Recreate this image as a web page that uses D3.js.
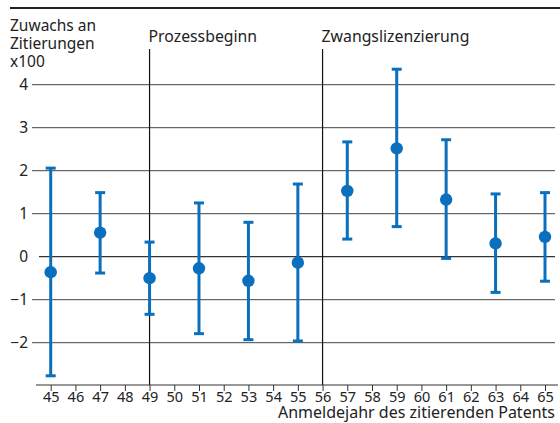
<!DOCTYPE html>
<html>
<head>
<meta charset="utf-8">
<script src="https://cdn.jsdelivr.net/npm/d3@7"></script>
<style>
  body { margin: 0; background: #fff; }
  text { font-family: "Noto Sans", sans-serif; fill: #222; }
</style>
</head>
<body>
<script>
// data (values x100)
var years = [45, 47, 49, 51, 53, 55, 57, 59, 61, 63, 65];
var means = [-0.36, 0.56, -0.50, -0.27, -0.56, -0.14, 1.53, 2.52, 1.33, 0.31, 0.46];
var lower = [-2.77, -0.38, -1.34, -1.79, -1.93, -1.96, 0.41, 0.70, -0.04, -0.83, -0.57];
var upper = [2.06, 1.49, 0.34, 1.25, 0.80, 1.69, 2.67, 4.36, 2.72, 1.46, 1.49];

var eventYears = [49, 56];
var eventLabels = ["Prozessbeginn", "Zwangslizenzierung"];

var yTicks = [-2, -1, 0, 1, 2, 3, 4];
var xTicks = d3.range(45, 66);
var yTitle = ["Zuwachs an", "Zitierungen", "x100"];
var xTitle = "Anmeldejahr des zitierenden Patents";

var W = 560, H = 423;
var blue = "#0a6fbd";
var font = "'Noto Sans', sans-serif";

var svg = d3.select("body").append("svg")
    .attr("width", W)
    .attr("height", H);

var x = d3.scaleLinear().domain([45, 65]).range([50.7, 545]);
var y = d3.scaleLinear().domain([-3, 4]).range([385.7, 84.7]);

// top rule
svg.append("line")
    .attr("x1", 10).attr("x2", 560)
    .attr("y1", 8).attr("y2", 8)
    .style("stroke", "#222").style("stroke-width", 2);

// horizontal gridlines
svg.selectAll(".grid")
    .data(yTicks)
    .enter().append("line")
    .attr("class", "grid")
    .attr("x1", function (d) { return d === 0 ? 39 : 32; })
    .attr("x2", 555)
    .attr("y1", function (d) { return y(d); })
    .attr("y2", function (d) { return y(d); })
    .style("stroke", function (d) { return d === 0 ? "#333" : "#444"; })
    .style("stroke-width", function (d) { return d === 0 ? 1.3 : 1; });

// y labels
var yAxis = svg.append("g")
    .attr("transform", "translate(28,0)")
    .call(d3.axisLeft(y).tickValues(yTicks).tickSize(0).tickPadding(0)
        .tickFormat(function (d) { return d < 0 ? "\u2212" + Math.abs(d) : d; }));
yAxis.select(".domain").remove();
yAxis.selectAll("text")
    .style("font-size", "15.5px")
    .style("font-family", font)
    .attr("fill", "#222");

// event lines and labels
svg.selectAll(".event")
    .data(eventYears)
    .enter().append("line")
    .attr("class", "event")
    .attr("x1", function (d) { return x(d); })
    .attr("x2", function (d) { return x(d); })
    .attr("y1", 49)
    .attr("y2", 385)
    .style("stroke", "#111").style("stroke-width", 1.2);

svg.selectAll(".event-label")
    .data(eventYears)
    .enter().append("text")
    .attr("class", "event-label")
    .attr("x", function (d) { return x(d) - 1; })
    .attr("y", 41.5)
    .style("font-size", "15.8px")
    .text(function (d, i) { return eventLabels[i]; });

// x axis
var xAxis = svg.append("g")
    .attr("transform", "translate(0,385)")
    .call(d3.axisBottom(x).tickValues(xTicks).tickSize(6).tickPadding(0.5)
        .tickFormat(d3.format("d")));
xAxis.select(".domain").remove();
xAxis.selectAll(".tick line").attr("stroke", "#333");
xAxis.selectAll("text")
    .style("font-size", "14.5px")
    .style("font-family", font)
    .attr("fill", "#222");
svg.append("line")
    .attr("x1", 36).attr("x2", 558)
    .attr("y1", 385).attr("y2", 385)
    .style("stroke", "#333").style("stroke-width", 1.2);

svg.append("text")
    .attr("x", 555)
    .attr("y", 418)
    .attr("text-anchor", "end")
    .style("font-size", "16px")
    .text(xTitle);

// y title
svg.selectAll(".ytitle")
    .data(yTitle)
    .enter().append("text")
    .attr("class", "ytitle")
    .attr("x", 10)
    .attr("y", function (d, i) { return 31 + i * 18.2; })
    .style("font-size", "15.5px")
    .text(function (d) { return d; });

// error bars
var pts = years.map(function (d, i) {
    return { year: d, mean: means[i], lo: lower[i], hi: upper[i] };
});

var bars = svg.selectAll(".err")
    .data(pts)
    .enter().append("g")
    .attr("class", "err");

bars.append("line")
    .attr("x1", function (d) { return x(d.year); })
    .attr("x2", function (d) { return x(d.year); })
    .attr("y1", function (d) { return y(d.lo); })
    .attr("y2", function (d) { return y(d.hi); })
    .style("stroke", blue).style("stroke-width", 3);

bars.selectAll(".cap")
    .data(function (d) { return [{ year: d.year, v: d.lo }, { year: d.year, v: d.hi }]; })
    .enter().append("line")
    .attr("class", "cap")
    .attr("x1", function (d) { return x(d.year) - 5; })
    .attr("x2", function (d) { return x(d.year) + 5; })
    .attr("y1", function (d) { return y(d.v); })
    .attr("y2", function (d) { return y(d.v); })
    .style("stroke", blue).style("stroke-width", 3);

bars.append("circle")
    .attr("cx", function (d) { return x(d.year); })
    .attr("cy", function (d) { return y(d.mean); })
    .attr("r", 6.2)
    .style("fill", blue);
</script>
</body>
</html>
